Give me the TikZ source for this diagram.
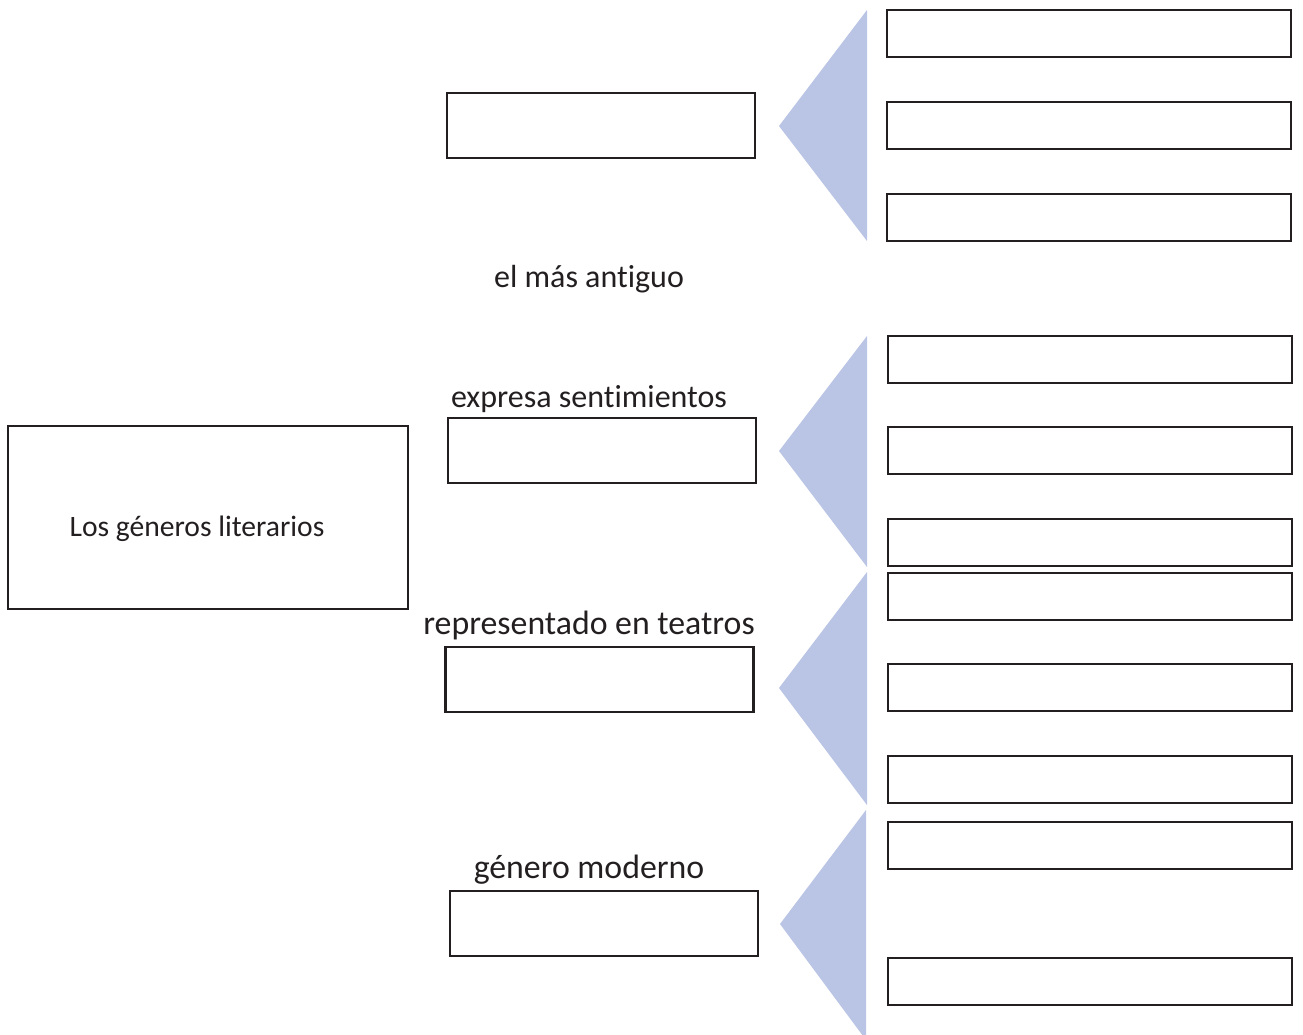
\documentclass[tikz,border=0pt]{standalone}
\usepackage{fontspec}
\setmainfont{Carlito}[Ligatures=NoCommon]
\definecolor{wedgeblue}{HTML}{BAC4E4}
\definecolor{inkline}{HTML}{231F20}
\tikzset{
  mainbox/.style={draw=inkline, line width=2.4pt, minimum width=400pt, minimum height=183pt, inner sep=0pt},
  genbox/.style={draw=inkline, line width=2.4pt, minimum width=308pt, minimum height=65pt, inner sep=0pt},
  slot/.style={draw=inkline, line width=2.4pt, minimum width=404pt, minimum height=47pt, inner sep=0pt},
  wedge/.style={fill=wedgeblue},
  hint/.style={font=\fontsize{32}{38}\selectfont, text=inkline, anchor=base, inner sep=0pt}
}
\begin{document}
\begin{tikzpicture}[x=1pt,y=-1pt]
\useasboundingbox (0,0) rectangle (1303,1034);

\node[mainbox] (generos) at (208,517.5) {};
\node[font=\fontsize{29.6}{35}\selectfont, text=inkline, anchor=base, inner sep=0pt] (titulo) at (197,536) {Los géneros literarios};

\fill[wedge] (867,10) -- (779,126) -- (867,241) -- cycle;
\fill[wedge] (867,336) -- (779,451) -- (867,567) -- cycle;
\fill[wedge] (867,572) -- (779,688) -- (867,805) -- cycle;
\fill[wedge] (866,810) -- (780,924) -- (866,1040) -- cycle;

\node[genbox] (narrativo) at (601,125.5) {};
\node[hint] (antiguo) at (589,287) {el más antiguo};
\node[hint] (lirico-txt) at (589,407) {expresa sentimientos};
\node[genbox] (lirico) at (602,450.5) {};
\node[hint, font=\fontsize{33.8}{40}\selectfont] (teatro-txt) at (589,634) {representado en teatros};
\node[genbox] (teatro) at (599.5,679.5) {};
\node[hint, font=\fontsize{33.8}{40}\selectfont] (moderno) at (589,878) {género moderno};
\node[genbox] (ensayo) at (604,923.5) {};

\node[slot] (n1) at (1089,33.5) {};
\node[slot] (n2) at (1089,125.5) {};
\node[slot] (n3) at (1089,217.5) {};

\node[slot] (l1) at (1090,359.5) {};
\node[slot] (l2) at (1090,450.5) {};
\node[slot] (l3) at (1090,542.5) {};

\node[slot] (t1) at (1090,596.5) {};
\node[slot] (t2) at (1090,687.5) {};
\node[slot] (t3) at (1090,779.5) {};

\node[slot] (e1) at (1090,845.5) {};
\node[slot] (e2) at (1090,981.5) {};
\end{tikzpicture}
\end{document}
